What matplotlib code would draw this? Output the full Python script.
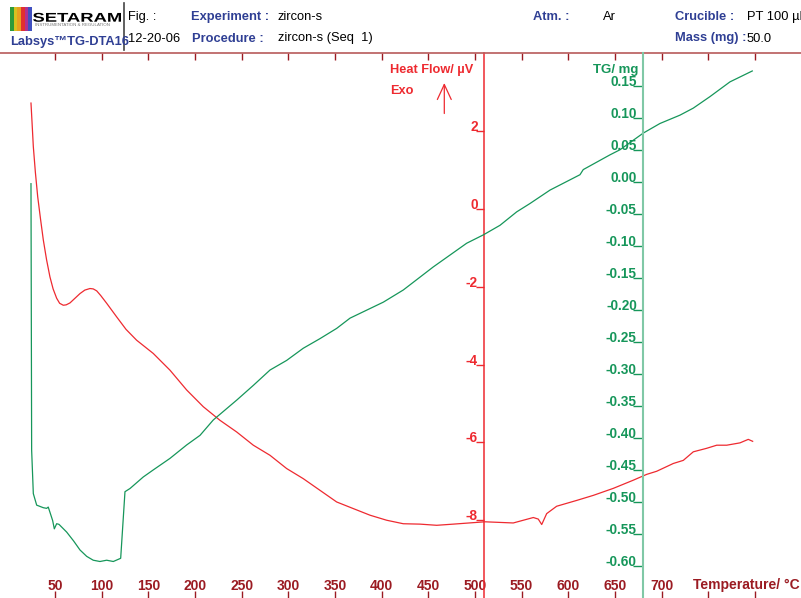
import matplotlib.pyplot as plt
from matplotlib.lines import Line2D
from matplotlib.patches import Rectangle, PathPatch
from matplotlib.textpath import TextPath
from matplotlib.font_manager import FontProperties
from matplotlib.transforms import Affine2D

plt.rcParams['font.family'] = ['Liberation Sans', 'DejaVu Sans']

# heat flow (DTA) signal, temperature in degC, signal in uV
hf_temp = [24.3, 25.5, 26.8, 29.0, 31.5, 34.5, 37.5, 41.0, 44.6, 48.0,
           51.8, 55.0, 58.9, 62.0, 66.1, 71.0, 76.8, 82.0, 87.5, 91.0,
           94.7, 99.0, 105.4, 116.1, 126.1, 137.5, 155.3, 173.2, 191.1, 208.9,
           226.8, 244.7, 262.5, 280.4, 298.2, 316.0, 333.9, 351.8, 369.6, 387.5,
           405.4, 423.2, 441.1, 459.0, 476.8, 510.7, 541.0, 562.5, 567.8, 571.5,
           576.8, 587.5, 609.0, 626.8, 648.2, 669.6, 684.0, 694.7, 712.5, 723.2,
           733.9, 748.2, 759.0, 769.7, 783.9, 792.8, 797.5]
hf_val = [2.73, 2.20, 1.61, 0.95, 0.32, -0.25, -0.79, -1.30, -1.74, -2.05,
          -2.29, -2.42, -2.47, -2.46, -2.41, -2.30, -2.17, -2.08, -2.04, -2.05,
          -2.10, -2.22, -2.42, -2.77, -3.09, -3.37, -3.71, -4.14, -4.65, -5.08,
          -5.43, -5.73, -6.07, -6.33, -6.67, -6.93, -7.23, -7.53, -7.70, -7.87,
          -8.00, -8.09, -8.10, -8.13, -8.10, -8.04, -8.07, -7.93, -7.97, -8.11,
          -7.83, -7.64, -7.49, -7.36, -7.18, -6.97, -6.82, -6.74, -6.54, -6.46,
          -6.24, -6.15, -6.07, -6.07, -6.01, -5.92, -5.97]

# TG signal, mass change in mg
tg_temp = [24.3, 25.0, 26.8, 30.4, 37.5, 41.1, 42.8, 44.6, 47.5, 49.3,
           51.8, 54.3, 62.5, 70.0, 76.8, 84.0, 91.0, 98.2, 105.4, 112.5,
           120.4, 125.0, 130.4, 144.6, 155.3, 173.2, 191.1, 205.4, 219.6, 244.7,
           262.5, 280.4, 298.2, 316.0, 333.9, 351.8, 366.1, 401.8, 423.2, 455.3,
           491.1, 508.9, 526.8, 544.7, 558.9, 580.4, 612.5, 616.0, 644.6, 655.4,
           680.3, 698.2, 719.6, 733.9, 751.8, 773.2, 797.1]
tg_val = [-0.003, -0.419, -0.487, -0.505, -0.509, -0.510, -0.508, -0.516, -0.529, -0.542,
          -0.534, -0.535, -0.547, -0.561, -0.575, -0.585, -0.591, -0.593, -0.591, -0.593,
          -0.588, -0.484, -0.479, -0.461, -0.450, -0.432, -0.411, -0.396, -0.372, -0.341,
          -0.318, -0.294, -0.279, -0.260, -0.245, -0.229, -0.213, -0.188, -0.169, -0.133,
          -0.096, -0.083, -0.068, -0.047, -0.034, -0.013, 0.011, 0.019, 0.042, 0.050,
          0.076, 0.091, 0.104, 0.115, 0.133, 0.156, 0.173]

temp_ticks = [50, 100, 150, 200, 250, 300, 350, 400, 450, 500, 550, 600, 650, 700, 750, 800]
temp_labels = ['50', '100', '150', '200', '250', '300', '350', '400', '450', '500',
               '550', '600', '650', '700', '', '']
hf_ticks = [2, 0, -2, -4, -6, -8]
tg_ticks = [0.15, 0.10, 0.05, 0.00, -0.05, -0.10, -0.15, -0.20, -0.25, -0.30,
            -0.35, -0.40, -0.45, -0.50, -0.55, -0.60]

RED = '#ee2a30'
GREEN = '#16965a'
GREEN_AX = '#80c8a6'
DARKRED = '#9b1b22'
NAVY = '#2f3f94'

W, H = 801, 598
fig = plt.figure(figsize=(W / 100, H / 100), dpi=100)


def fx(px):
    return px / W


def fy(py):
    return 1 - py / H


# heat flow axes
ax = fig.add_axes([0, 0, 1, 1 - 53.3 / H])
ax.set_xlim(-8.9, 849.3)
ax.set_ylim(-10, 4.01)
ax.spines['right'].set_visible(False)
ax.spines['bottom'].set_visible(False)
ax.spines['top'].set_color('#b85a5a')
ax.spines['top'].set_linewidth(1.2)
ax.spines['left'].set_position(('data', 510))
ax.spines['left'].set_color(RED)
ax.spines['left'].set_linewidth(1.1)

ax.set_xticks(temp_ticks)
ax.set_xticklabels(temp_labels, fontweight='bold')
ax.tick_params(axis='x', direction='in', length=5, width=1, color=DARKRED,
               top=True, bottom=True, labelcolor=DARKRED, labelsize=10, pad=-14)
ax.set_yticks(hf_ticks)
ax.set_yticklabels([str(v) for v in hf_ticks], fontweight='bold', va='baseline')
ax.tick_params(axis='y', direction='out', length=6, width=1, color=RED,
               labelcolor=RED, labelsize=9.8, pad=-1.4)
ax.plot(hf_temp, hf_val, color=RED, lw=0.9)

# TG axes
ax2 = ax.twinx()
ax2.set_ylim(-0.65, 0.2006)
for s in ['top', 'right', 'bottom']:
    ax2.spines[s].set_visible(False)
ax2.spines['left'].set_visible(True)
ax2.spines['left'].set_position(('data', 679.7))
ax2.spines['left'].set_color(GREEN_AX)
ax2.spines['left'].set_linewidth(1.5)
ax2.yaxis.tick_left()
ax2.set_yticks(tg_ticks)
ax2.set_yticklabels(['%.2f' % v for v in tg_ticks], fontweight='bold', va='baseline')
ax2.tick_params(axis='y', direction='out', length=7, width=1, color=GREEN,
                labelcolor=GREEN, labelsize=9.8, pad=-2.8)
ax2.plot(tg_temp, tg_val, color=GREEN, lw=0.9)

# axis titles
fig.text(fx(390), fy(70), 'Heat Flow/ µV', color=RED, fontsize=9.2, fontweight='bold', va='center')
fig.text(fx(390), fy(91), 'Exo', color=RED, fontsize=9.2, fontweight='bold', va='center')
fig.text(fx(593), fy(70), 'TG/ mg', color=GREEN, fontsize=9.5, fontweight='bold', va='center')
fig.text(fx(693), fy(585), 'Temperature/ °C', color=DARKRED, fontsize=10, fontweight='bold', va='center')
ax.annotate('', xy=(fx(444.3), fy(83)), xytext=(fx(444.3), fy(113.5)),
            xycoords='figure fraction', textcoords='figure fraction',
            arrowprops=dict(arrowstyle='->,head_length=1.08,head_width=0.5',
                            color=RED, lw=0.9, mutation_scale=10, shrinkA=0, shrinkB=0))

# header
stripes = ['#2f9a3a', '#d8c020', '#e8a020', '#e03030', '#b03090', '#4050c0']
for i, c in enumerate(stripes):
    fig.add_artist(Rectangle((fx(10 + i * 3.7), fy(31)), 3.7 / W, 24 / H,
                             transform=fig.transFigure, color=c, lw=0))
tp = TextPath((0, 0), 'SETARAM', size=1, prop=FontProperties(family='Liberation Sans', weight='bold'))
bb = tp.get_extents()
tr = Affine2D().translate(-bb.x0, 0).scale(88 / bb.width, 9 / bb.height).translate(33, H - 21.7)
fig.add_artist(PathPatch(tp, transform=tr, color='black', lw=0))
fig.text(fx(35), fy(25.5), 'INSTRUMENTATION & REGULATION', fontsize=3.2, color='#777777', va='center')
fig.add_artist(Line2D([fx(124), fx(124)], [fy(3), fy(50)], color='#444444', lw=1.2,
                      transform=fig.transFigure))

hs = 9.3
fig.text(fx(128.5), fy(17), 'Fig. :', fontsize=hs, va='center')
fig.text(fx(191.3), fy(17), 'Experiment :', fontsize=hs, fontweight='bold', color=NAVY, va='center')
fig.text(fx(277.7), fy(17), 'zircon-s', fontsize=hs, va='center')
fig.text(fx(532.7), fy(17), 'Atm. :', fontsize=hs, fontweight='bold', color=NAVY, va='center')
fig.text(fx(603.3), fy(17), 'Ar', fontsize=hs, va='center')
fig.text(fx(675), fy(17), 'Crucible :', fontsize=hs, fontweight='bold', color=NAVY, va='center')
fig.text(fx(746.7), fy(17), 'PT 100 µl', fontsize=hs, va='center')
fig.text(fx(128.3), fy(38.5), '12-20-06', fontsize=hs, va='center')
fig.text(fx(10), fy(41.5), 'Labsys™TG-DTA16', fontsize=hs, fontweight='bold', color=NAVY, va='center')
fig.text(fx(191.7), fy(38.5), 'Procedure :', fontsize=hs, fontweight='bold', color=NAVY, va='center')
fig.text(fx(278.3), fy(38.5), 'zircon-s (Seq  1)', fontsize=hs, va='center')
fig.text(fx(675), fy(38.5), 'Mass (mg) :', fontsize=hs, fontweight='bold', color=NAVY, va='center')
fig.text(fx(746.7), fy(38.5), '50.0', fontsize=hs, va='center')

fig.savefig('out.png', dpi=100)
